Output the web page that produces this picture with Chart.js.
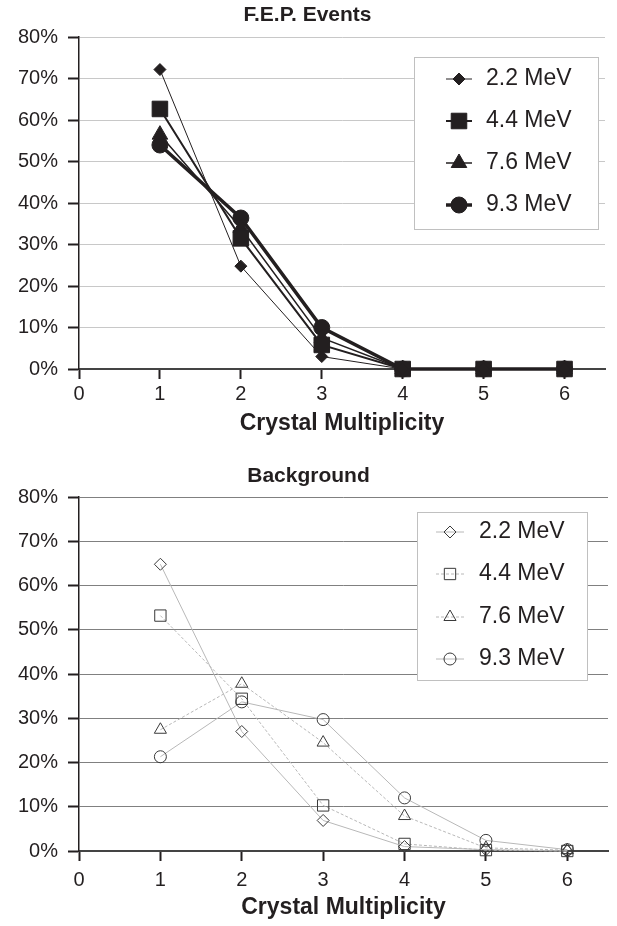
<!DOCTYPE html>
<html><head><meta charset="utf-8">
<script src="https://cdn.jsdelivr.net/npm/chart.js@4.4.1/dist/chart.umd.min.js"></script>
<style>
html,body{margin:0;padding:0;background:#fff;}
#c1{position:absolute;left:0;top:0;}
#c2{position:absolute;left:0;top:440px;}
</style></head><body>
<canvas id="c1" width="617" height="440"></canvas>
<canvas id="c2" width="617" height="486"></canvas>
<script>
// ---- data ----
const multiplicity = [1, 2, 3, 4, 5, 6];
const energyLabels = ['2.2 MeV', '4.4 MeV', '7.6 MeV', '9.3 MeV'];
const fep22 = [72.2, 24.8, 3.0, 0, 0, 0];
const fep44 = [62.7, 31.5, 5.8, 0, 0, 0];
const fep76 = [56.5, 34.0, 7.5, 0, 0, 0];
const fep93 = [54.0, 36.4, 10.0, 0, 0, 0];
const bg22 = [64.8, 27.0, 6.9, 1.0, 0.3, 0.0];
const bg44 = [53.2, 34.4, 10.3, 1.6, 0.2, 0.0];
const bg76 = [27.4, 37.8, 24.5, 7.9, 0.7, 0.2];
const bg93 = [21.3, 33.7, 29.7, 12.0, 2.4, 0.3];
const yTickValues = [0, 10, 20, 30, 40, 50, 60, 70, 80];
const xTickValues = [0, 1, 2, 3, 4, 5, 6];
const topTitle = 'F.E.P. Events';
const bottomTitle = 'Background';
const xAxisTitle = 'Crystal Multiplicity';

const FONT = "'Liberation Sans', Arial, Helvetica, sans-serif";
const INK = '#231f20';

function pts(vals) { return multiplicity.map((m, i) => ({ x: m, y: vals[i] })); }

// custom boxed legend drawn inside the plot
const boxLegend = {
  id: 'boxLegend',
  beforeDatasetsDraw(chart, args, opts) {
    const ctx = chart.ctx;
    const b = opts.box;
    ctx.save();
    ctx.fillStyle = '#ffffff';
    ctx.fillRect(b.x1, b.y1, b.x2 - b.x1, b.y2 - b.y1);
    ctx.strokeStyle = opts.borderColor;
    ctx.lineWidth = 1;
    ctx.strokeRect(b.x1 + 0.5, b.y1 + 0.5, b.x2 - b.x1, b.y2 - b.y1);
    ctx.restore();
  },
  afterDatasetsDraw(chart, args, opts) {
    const ctx = chart.ctx;
    chart.data.datasets.forEach((ds, i) => {
      const y = opts.rows[i];
      ctx.save();
      ctx.strokeStyle = ds.borderColor;
      ctx.lineWidth = ds.borderWidth;
      ctx.setLineDash(ds.borderDash || []);
      ctx.beginPath();
      ctx.moveTo(opts.lineX1, y);
      ctx.lineTo(opts.lineX2, y);
      ctx.stroke();
      ctx.setLineDash([]);
      ctx.fillStyle = ds.pointBackgroundColor;
      ctx.strokeStyle = ds.pointBorderColor;
      ctx.lineWidth = ds.pointBorderWidth;
      Chart.helpers.drawPoint(ctx, {
        pointStyle: ds.pointStyle, radius: ds.pointRadius, rotation: 0,
        borderWidth: ds.pointBorderWidth
      }, opts.markerX, y);
      ctx.fillStyle = INK;
      ctx.font = opts.font;
      ctx.textBaseline = 'middle';
      ctx.textAlign = 'left';
      ctx.fillText(ds.label, opts.textX, y);
      ctx.restore();
    });
  }
};

function makeOptions(cfg) {
  return {
    responsive: false,
    animation: false,
    devicePixelRatio: 1,
    layout: { padding: { left: 0, right: cfg.padRight, top: 0, bottom: 0 } },
    plugins: {
      legend: { display: false },
      tooltip: { enabled: false },
      title: {
        display: true, text: cfg.title, color: INK,
        font: { family: FONT, size: 21, weight: 'bold', lineHeight: 1.2 },
        padding: { top: cfg.titlePadTop, bottom: cfg.titlePadBottom }
      },
      boxLegend: cfg.legend
    },
    scales: {
      x: {
        type: 'linear', min: 0, max: 6.5,
        afterBuildTicks: s => { s.ticks = xTickValues.map(v => ({ value: v })); },
        afterFit: s => { s.height = cfg.xHeight; },
        ticks: { color: INK, font: { family: FONT, size: 20 }, padding: cfg.xTickPad, maxRotation: 0, autoSkip: false },
        grid: { drawOnChartArea: false, drawTicks: true, tickLength: 10, tickColor: INK, tickWidth: 2, color: INK },
        border: { display: true, color: '#444', width: 2 },
        title: {
          display: true, text: xAxisTitle, color: INK,
          font: { family: FONT, size: 23, weight: 'bold', lineHeight: 1.2 },
          padding: { top: 0, bottom: cfg.xTitlePad }
        }
      },
      y: {
        type: 'linear', min: 0, max: 80,
        afterBuildTicks: s => { s.ticks = yTickValues.map(v => ({ value: v })); },
        afterFit: s => { s.width = 79; },
        ticks: { color: INK, font: { family: FONT, size: 20 }, padding: 10, callback: v => v + '%' },
        grid: { color: cfg.gridColor, lineWidth: 1, drawTicks: true, tickLength: 11, tickColor: INK, tickWidth: 2 },
        border: { display: true, color: INK, width: 1.5 }
      }
    }
  };
}

function solidSeries(label, vals, style, radius, width) {
  return {
    label, data: pts(vals), borderColor: INK, borderWidth: width,
    pointStyle: style, pointRadius: radius, pointBackgroundColor: INK,
    pointBorderColor: INK, pointBorderWidth: 1, tension: 0, clip: false, fill: false
  };
}
function openSeries(label, vals, style, radius, dash) {
  return {
    label, data: pts(vals), borderColor: '#b8b8b8', borderWidth: 1, borderDash: dash,
    pointStyle: style, pointRadius: radius, pointBackgroundColor: 'rgba(255,255,255,0)',
    pointBorderColor: '#3a3a3a', pointBorderWidth: 1, tension: 0, clip: false, fill: false
  };
}

new Chart(document.getElementById('c1'), {
  type: 'line',
  data: {
    datasets: [
      solidSeries(energyLabels[0], fep22, 'rectRot', 6, 1),
      solidSeries(energyLabels[1], fep44, 'rect', 11, 2),
      solidSeries(energyLabels[2], fep76, 'triangle', 9, 1.5),
      solidSeries(energyLabels[3], fep93, 'circle', 8, 3.5)
    ]
  },
  options: makeOptions({
    title: topTitle, titlePadTop: 3, titlePadBottom: 9, padRight: 2,
    xHeight: 71, xTickPad: 3, xTitlePad: 3, gridColor: '#c8c8c8',
    legend: {
      box: { x1: 414, y1: 57, x2: 598, y2: 229 }, borderColor: '#c0c0c0',
      rows: [79, 121, 163, 205], lineX1: 446, lineX2: 472, markerX: 459, textX: 486,
      font: "23px " + FONT
    }
  }),
  plugins: [boxLegend]
});

new Chart(document.getElementById('c2'), {
  type: 'line',
  data: {
    datasets: [
      openSeries(energyLabels[0], bg22, 'rectRot', 6, []),
      openSeries(energyLabels[1], bg44, 'rect', 8, [3, 2]),
      openSeries(energyLabels[2], bg76, 'triangle', 7, [3, 2]),
      openSeries(energyLabels[3], bg93, 'circle', 6, [])
    ]
  },
  options: makeOptions({
    title: bottomTitle, titlePadTop: 23.5, titlePadBottom: 8.3, padRight: 0,
    xHeight: 75, xTickPad: 7, xTitlePad: 5, gridColor: '#808080',
    legend: {
      box: { x1: 417, y1: 72, x2: 587, y2: 240 }, borderColor: '#c0c0c0',
      rows: [92, 134, 177, 219], lineX1: 436, lineX2: 464, markerX: 450, textX: 479,
      font: "23px " + FONT
    }
  }),
  plugins: [boxLegend]
});
</script>
</body></html>
